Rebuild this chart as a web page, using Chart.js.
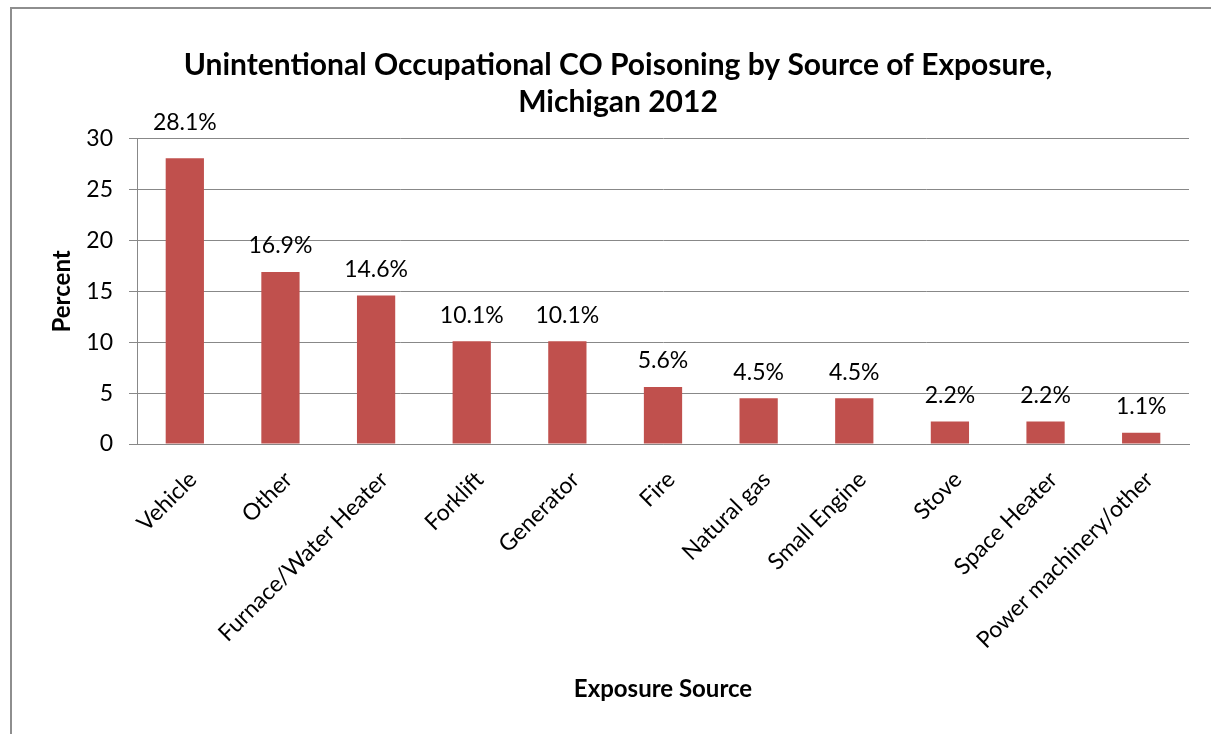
<!DOCTYPE html>
<html>
<head>
<meta charset="utf-8">
<script src="https://cdn.jsdelivr.net/npm/chart.js@4/dist/chart.umd.min.js"></script>
<style>
  html, body { margin: 0; padding: 0; background: #fff; }
  #wrap { position: relative; width: 1211px; height: 734px; overflow: hidden; }
  #frame { position: absolute; left: 10px; top: 7px; width: 1300px; height: 800px;
           border-left: 2px solid #8e8e8e; border-top: 2px solid #8e8e8e; }
  canvas { position: absolute; left: 0; top: 0; }
</style>
</head>
<body>
<div id="wrap">
  <div id="frame"></div>
  <canvas id="chart" width="1211" height="734"></canvas>
</div>
<script>
const categories = ['Vehicle', 'Other', 'Furnace/Water Heater', 'Forklift', 'Generator', 'Fire',
  'Natural gas', 'Small Engine', 'Stove', 'Space Heater', 'Power machinery/other'];
const percentValues = [28.1, 16.9, 14.6, 10.1, 10.1, 5.6, 4.5, 4.5, 2.2, 2.2, 1.1];
const yTicks = [0, 5, 10, 15, 20, 25, 30];

const FONT = 'Lato, "Open Sans", sans-serif';

// value labels above each bar
const barLabels = {
  id: 'barLabels',
  afterDatasetsDraw(chart) {
    const ctx = chart.ctx;
    const top = chart.chartArea.top;
    const meta = chart.getDatasetMeta(0);
    ctx.save();
    ctx.font = '23px ' + FONT;
    ctx.fillStyle = '#000';
    ctx.textAlign = 'center';
    ctx.textBaseline = 'middle';
    meta.data.forEach((bar, i) => {
      let y = bar.y - 26;
      // keep label clear of the top gridline
      if (y + 11 > top && y - 11 < top) y = top - 16;
      ctx.fillText(percentValues[i].toFixed(1) + '%', bar.x, y);
    });
    ctx.restore();
  }
};

const ctx = document.getElementById('chart').getContext('2d');
new Chart(ctx, {
  type: 'bar',
  data: {
    labels: categories,
    datasets: [{
      data: percentValues,
      backgroundColor: '#C0504D',
      borderWidth: 0,
      categoryPercentage: 1,
      barPercentage: 0.4
    }]
  },
  options: {
    responsive: false,
    animation: false,
    devicePixelRatio: 1,
    layout: { padding: { left: 47, right: 22, top: 0, bottom: 30 } },
    plugins: {
      legend: { display: false },
      tooltip: { enabled: false },
      title: {
        display: true,
        text: ['Unintentional Occupational CO Poisoning by Source of Exposure,', 'Michigan 2012'],
        color: '#000',
        font: { family: FONT, size: 30, weight: 'bold', lineHeight: 1.23 },
        padding: { top: 47, bottom: 18 }
      }
    },
    scales: {
      x: {
        grid: { display: false },
        border: { display: true, color: '#888', width: 1 },
        ticks: {
          color: '#000',
          font: { family: FONT, size: 23 },
          minRotation: 45,
          maxRotation: 45,
          autoSkip: false,
          padding: 14,
          labelOffset: 8
        },
        title: {
          display: true,
          text: 'Exposure Source',
          color: '#000',
          font: { family: FONT, size: 24, weight: 'bold', lineHeight: 1.2 },
          padding: { top: 0, bottom: 0 }
        },
        afterFit(scale) { scale.height = 260; }
      },
      y: {
        min: 0,
        max: 30,
        afterBuildTicks(scale) { scale.ticks = yTicks.map(v => ({ value: v })); },
        grid: { color: '#888', lineWidth: 1, tickLength: 8 },
        border: { display: true, color: '#888', width: 1 },
        ticks: {
          color: '#000',
          font: { family: FONT, size: 23 },
          padding: 16
        },
        title: {
          display: true,
          text: 'Percent',
          color: '#000',
          font: { family: FONT, size: 24, weight: 'bold', lineHeight: 1.2 },
          padding: { top: 1, bottom: 0 }
        },
        afterFit(scale) { scale.width = 90; }
      }
    }
  },
  plugins: [barLabels]
});
</script>
</body>
</html>
